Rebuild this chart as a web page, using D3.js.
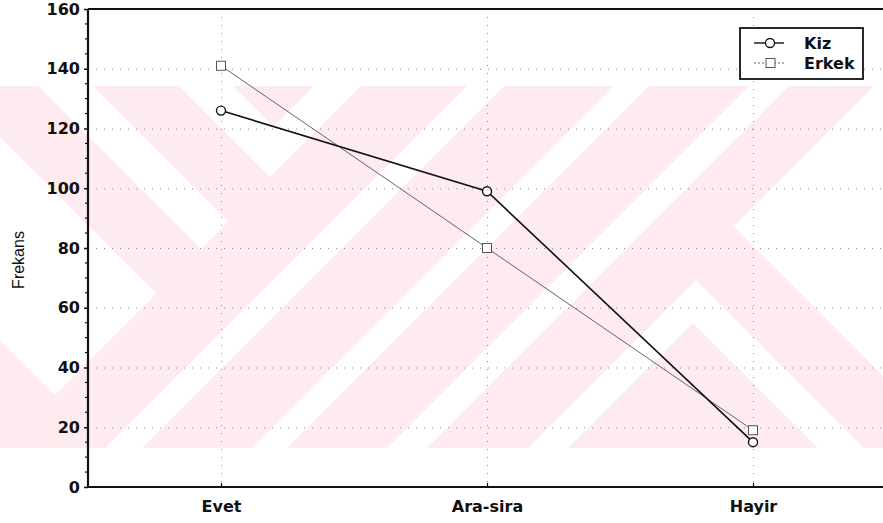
<!DOCTYPE html>
<html>
<head>
<meta charset="utf-8">
<script src="https://cdn.jsdelivr.net/npm/d3@7"></script>
<style>
  html, body { margin: 0; padding: 0; background: #fff; }
  svg { display: block; font-family: "DejaVu Sans", sans-serif; }
</style>
</head>
<body>
<svg id="chart" width="883" height="523"></svg>
<script>
// ---- data ----
const categories = ["Evet", "Ara-sira", "Hayir"];
const kiz = [126, 99, 15];
const erkek = [141, 80, 19];
const seriesNames = ["Kiz", "Erkek"];
const yTicks = [0, 20, 40, 60, 80, 100, 120, 140, 160];

// ---- layout ----
const W = 883, H = 523;
const margin = { left: 88, right: 0, top: 9, bottom: 36 };
const plotRight = 886;
const svg = d3.select("#chart");
const labelFont = "'DejaVu Sans', sans-serif";

const x = d3.scalePoint().domain(categories).range([margin.left, plotRight]).padding(0.5);
const y = d3.scaleLinear().domain([0, 160]).range([H - margin.bottom, margin.top]);

// ---- background watermark (decorative pink stripes) ----
const pink = "#fdebef";
const bandTop = 86, bandBot = 448;
const clip = svg.append("defs").append("clipPath").attr("id", "bandclip");
clip.append("rect").attr("x", 0).attr("y", bandTop).attr("width", W).attr("height", bandBot - bandTop);
const wg = svg.append("g").attr("clip-path", "url(#bandclip)");
wg.append("rect").attr("x", 0).attr("y", bandTop).attr("width", W).attr("height", bandBot - bandTop).attr("fill", pink);
// region with dMin<=x-y<=dMax and sMin<=x+y<=sMax
function region(dMin, dMax, sMin, sMax) {
  const P = (d, s) => [(d + s) / 2, (s - d) / 2];
  return [P(dMin, sMin), P(dMax, sMin), P(dMax, sMax), P(dMin, sMax)];
}
const whites = [
  region(-48, 7, -2000, 450),
  region(-2000, -137, -2000, 450),
  region(93, 2000, -2000, 447),
  region(-2000, 2000, 553, 590),
  region(-2000, 2000, 700, 735),
  region(-2000, 2000, 835, 875),
  region(-2000, 416, 976, 4000),
  region(507, 2000, 960, 4000)
];
const pinks = [
  region(-2000, -340, -2000, 4000),
  region(-2000, 370, 1016, 4000),
  region(147, 2000, -2000, 400)
];
whites.forEach(p => wg.append("polygon").attr("points", p.map(q => q.join(",")).join(" ")).attr("fill", "#fff"));
pinks.forEach(p => wg.append("polygon").attr("points", p.map(q => q.join(",")).join(" ")).attr("fill", pink));

// ---- grid ----
const grid = svg.append("g").attr("stroke", "#8a8a8a").attr("stroke-width", 1).attr("stroke-dasharray", "1,7");
grid.selectAll("line.h").data(yTicks.filter(d => d > 0 && d < 160)).join("line")
  .attr("x1", margin.left).attr("x2", W).attr("y1", d => y(d) + 0.5).attr("y2", d => y(d) + 0.5);
grid.selectAll("line.v").data(categories).join("line")
  .attr("x1", d => x(d) + 0.5).attr("x2", d => x(d) + 0.5).attr("y1", margin.top).attr("y2", H - margin.bottom);

// ---- axes ----
const yAxis = d3.axisLeft(y).tickValues(yTicks).tickSize(4).tickPadding(4);
const gy = svg.append("g").attr("transform", `translate(${margin.left},0)`).call(yAxis);
gy.select(".domain").remove();
gy.selectAll("text").attr("font-size", 16).attr("font-weight", "bold").attr("fill", "#111")
  .attr("font-family", labelFont);
gy.selectAll("line").attr("stroke", "#111").attr("stroke-width", 1.5);
const minor = d3.range(0, 161, 5).filter(v => v % 20 !== 0);
svg.append("g").selectAll("line").data(minor).join("line")
  .attr("x1", margin.left - 3).attr("x2", margin.left).attr("y1", d => y(d)).attr("y2", d => y(d))
  .attr("stroke", "#111").attr("stroke-width", 1.2);

const xAxis = d3.axisBottom(x).tickSize(4).tickPadding(8);
const gx = svg.append("g").attr("transform", `translate(0,${H - margin.bottom})`).call(xAxis);
gx.select(".domain").remove();
gx.selectAll("line").attr("stroke", "#111").attr("stroke-width", 1.2).attr("y2", -4);
gx.selectAll("text").attr("font-size", 16).attr("font-weight", "bold").attr("fill", "#111")
  .attr("font-family", labelFont).attr("y", 25).attr("dy", 0);

// frame
const frame = svg.append("g").attr("stroke", "#111").attr("stroke-width", 2.2).attr("fill", "none");
frame.append("line").attr("x1", margin.left).attr("x2", margin.left).attr("y1", margin.top).attr("y2", H - margin.bottom);
frame.append("line").attr("x1", margin.left).attr("x2", W).attr("y1", H - margin.bottom).attr("y2", H - margin.bottom);
frame.append("line").attr("x1", margin.left).attr("x2", W).attr("y1", margin.top).attr("y2", margin.top);

// y label
svg.append("text").attr("transform", `translate(24,260) rotate(-90)`)
  .attr("text-anchor", "middle").attr("font-size", 16).attr("fill", "#111")
  .attr("font-family", "'Liberation Sans', Arial, sans-serif").text("Frekans");

// ---- series ----
const line = d3.line().x((d, i) => x(categories[i])).y(d => y(d));
svg.append("path").datum(erkek).attr("d", line).attr("fill", "none").attr("stroke", "#555").attr("stroke-width", 0.9);
svg.append("path").datum(kiz).attr("d", line).attr("fill", "none").attr("stroke", "#111").attr("stroke-width", 1.6);

const sq = 9;
svg.append("g").selectAll("rect").data(erkek).join("rect")
  .attr("x", (d, i) => x(categories[i]) - sq / 2).attr("y", d => y(d) - sq / 2)
  .attr("width", sq).attr("height", sq).attr("fill", "#fff").attr("stroke", "#555").attr("stroke-width", 1);
svg.append("g").selectAll("circle").data(kiz).join("circle")
  .attr("cx", (d, i) => x(categories[i])).attr("cy", d => y(d)).attr("r", 4.5)
  .attr("fill", "#fff").attr("stroke", "#111").attr("stroke-width", 1.4);

// ---- legend ----
const lg = svg.append("g").attr("transform", "translate(740,28)");
lg.append("rect").attr("width", 123).attr("height", 51).attr("fill", "#fff").attr("stroke", "#111").attr("stroke-width", 1.8);
const rows = lg.selectAll("g.row").data(seriesNames).join("g").attr("transform", (d, i) => `translate(0,${15 + i * 20})`);
rows.append("line").attr("x1", 14).attr("x2", 44).attr("y1", 0).attr("y2", 0)
  .attr("stroke", (d, i) => i ? "#555" : "#111").attr("stroke-width", (d, i) => i ? 0.9 : 1.4)
  .attr("stroke-dasharray", (d, i) => i ? "2,2" : null);
rows.filter((d, i) => i === 0).append("circle").attr("cx", 30).attr("cy", 0).attr("r", 4.5)
  .attr("fill", "#fff").attr("stroke", "#111").attr("stroke-width", 1.3);
rows.filter((d, i) => i === 1).append("rect").attr("x", 26).attr("y", -4.5).attr("width", 9).attr("height", 9)
  .attr("fill", "#fff").attr("stroke", "#555").attr("stroke-width", 1);
rows.append("text").attr("x", 64).attr("y", 0).attr("dy", "0.36em").attr("font-size", 16).attr("font-weight", "bold")
  .attr("font-family", labelFont).attr("fill", "#111").text(d => d);
</script>
</body>
</html>
